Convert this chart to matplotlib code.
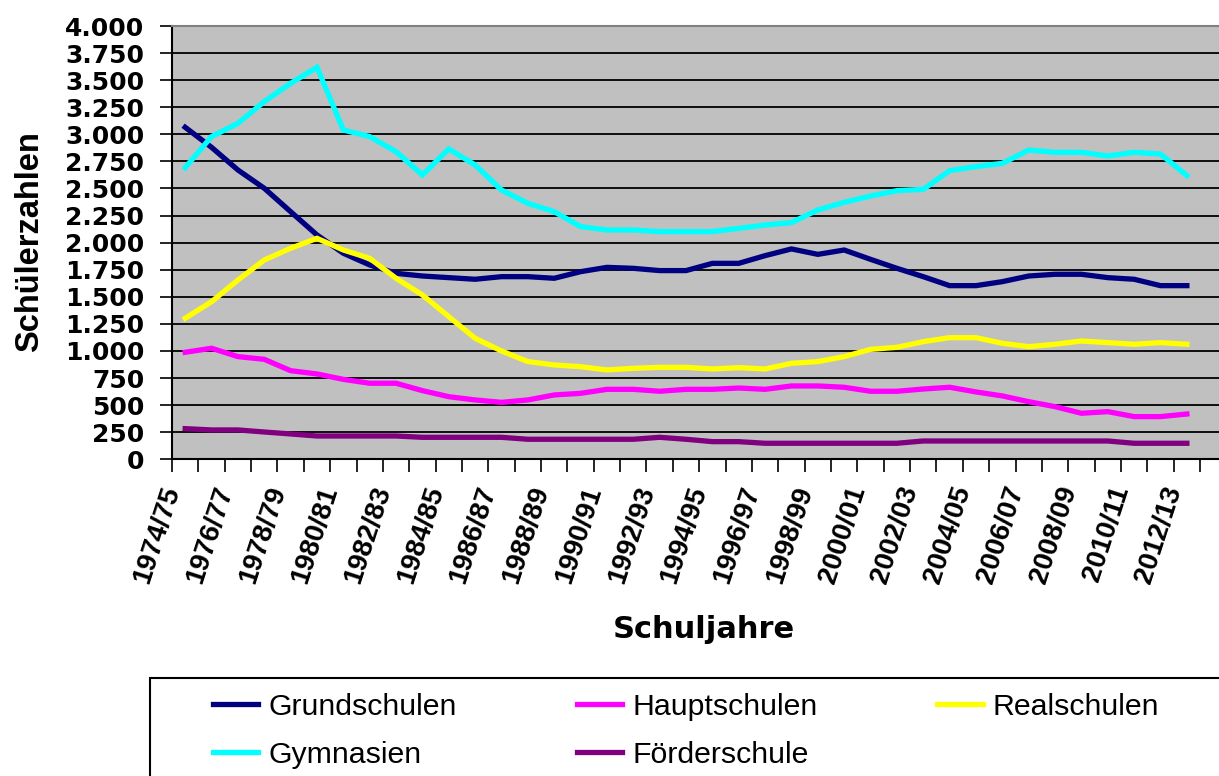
import matplotlib
matplotlib.use("Agg")
import matplotlib.pyplot as plt
from matplotlib.ticker import FixedLocator, FuncFormatter
from matplotlib.patches import Rectangle

school_years = [
    "1974/75", "1975/76", "1976/77", "1977/78", "1978/79", "1979/80", "1980/81",
    "1981/82", "1982/83", "1983/84", "1984/85", "1985/86", "1986/87", "1987/88",
    "1988/89", "1989/90", "1990/91", "1991/92", "1992/93", "1993/94", "1994/95",
    "1995/96", "1996/97", "1997/98", "1998/99", "1999/00", "2000/01", "2001/02",
    "2002/03", "2003/04", "2004/05", "2005/06", "2006/07", "2007/08", "2008/09",
    "2009/10", "2010/11", "2011/12", "2012/13",
]

grundschulen = [3065, 2880, 2671, 2502, 2286, 2071, 1902, 1794, 1717, 1692, 1677, 1662, 1686,
                1686, 1671, 1732, 1772, 1763, 1742, 1742, 1809, 1809, 1880, 1942, 1892, 1932,
                1846, 1763, 1686, 1603, 1603, 1640, 1692, 1708, 1708, 1677, 1662, 1603, 1603]
hauptschulen = [988, 1025, 948, 923, 818, 788, 738, 702, 702, 634, 578, 548, 526,
                548, 594, 609, 646, 646, 628, 646, 646, 658, 646, 677, 677, 665,
                628, 628, 649, 665, 622, 585, 532, 486, 425, 440, 394, 394, 418]
realschulen = [1302, 1455, 1655, 1840, 1948, 2040, 1932, 1855, 1671, 1517, 1317, 1117, 1000,
               902, 871, 855, 825, 840, 849, 849, 834, 846, 834, 886, 902, 948,
               1015, 1034, 1086, 1123, 1123, 1071, 1040, 1062, 1092, 1077, 1062, 1077, 1062]
gymnasien = [2692, 2979, 3102, 3302, 3471, 3619, 3040, 2979, 2840, 2625, 2865, 2717, 2486,
             2363, 2286, 2148, 2117, 2117, 2102, 2102, 2102, 2132, 2163, 2185, 2302, 2372,
             2431, 2480, 2492, 2665, 2702, 2732, 2855, 2834, 2834, 2800, 2834, 2818, 2619]
foerderschule = [283, 271, 271, 252, 234, 215, 215, 215, 215, 203, 203, 203, 203,
                 185, 185, 185, 185, 185, 203, 185, 163, 163, 148, 148, 148, 148,
                 148, 148, 169, 169, 169, 169, 169, 169, 169, 169, 148, 148, 148]

series_names = ["Grundschulen", "Hauptschulen", "Realschulen", "Gymnasien", "Förderschule"]
series_values = [grundschulen, hauptschulen, realschulen, gymnasien, foerderschule]
series_colors = ["#000080", "#FF00FF", "#FFFF00", "#00FFFF", "#800080"]

y_ticks = list(range(0, 4001, 250))

W, H = 1219, 776
fig = plt.figure(figsize=(W / 100, H / 100), dpi=100)
n_slots = len(school_years) + 1
left, right, top, bottom = 172, 172 + n_slots * 26.36, 26, 459.3
ax = fig.add_axes([left / W, 1 - bottom / H, (right - left) / W, (bottom - top) / H])
ax.set_facecolor("#C0C0C0")

x = list(range(len(school_years)))
lines = []
for name, vals, col in zip(series_names, series_values, series_colors):
    ln, = ax.plot(x, vals, color=col, lw=3.8, label=name, solid_joinstyle="miter")
    lines.append(ln)

ax.set_xlim(-0.5, n_slots - 0.5)
ax.set_ylim(0, 4000)

# y axis
ax.yaxis.set_major_locator(FixedLocator(y_ticks))
ax.yaxis.set_major_formatter(FuncFormatter(lambda v, p: f"{int(v):,}".replace(",", ".")))
ax.tick_params(axis="y", direction="out", length=9, width=1.2, pad=11,
               labelsize=18)
for lab in ax.get_yticklabels():
    lab.set_fontfamily("DejaVu Sans")
    lab.set_fontweight("bold")
ax.grid(axis="y", color="black", lw=1.3)
ax.set_axisbelow(True)

# x axis: ticks at category boundaries, labels at every other category center
ax.xaxis.set_major_locator(FixedLocator([i - 0.5 for i in range(n_slots + 1)]))
ax.xaxis.set_major_formatter(FuncFormatter(lambda v, p: ""))
ax.xaxis.set_minor_locator(FixedLocator(x[::2]))
ax.set_xticklabels(school_years[::2], minor=True)
ax.tick_params(axis="x", which="major", direction="out", length=9, width=1.2)
ax.tick_params(axis="x", which="minor", length=0, pad=17, labelsize=20)
for lab in ax.get_xticklabels(minor=True):
    lab.set_rotation(72)
    lab.set_ha("right")
    lab.set_va("top")
    lab.set_fontfamily("Liberation Sans")
    lab.set_fontweight("bold")

for s in ["left", "bottom"]:
    ax.spines[s].set_color("black")
    ax.spines[s].set_linewidth(1.5)
ax.spines["top"].set_color("#808080")
ax.spines["top"].set_linewidth(1.5)
ax.spines["right"].set_visible(False)

fig.text(30 / W, 1 - 242 / H, "Schülerzahlen", rotation=90, ha="center", va="center",
         fontsize=23.5, fontweight="bold", family="Liberation Sans")
fig.text(704 / W, 1 - 630 / H, "Schuljahre", ha="center", va="center",
         fontsize=22, fontweight="bold", family="DejaVu Sans")

# legend box
fig.add_artist(Rectangle((150 / W, -0.05), 1.0, 0.05 + (H - 678) / H, transform=fig.transFigure,
                         fill=False, ec="black", lw=1.5))
order = [0, 3, 1, 4, 2]
leg = fig.legend([lines[i] for i in order], [series_names[i] for i in order],
                 ncol=3, loc="upper left", bbox_to_anchor=(213 / W, 1 - 693 / H),
                 frameon=False, borderpad=0, borderaxespad=0,
                 handlelength=1.5, handletextpad=0.33, columnspacing=3.96,
                 labelspacing=0.65,
                 prop={"family": "Liberation Sans", "size": 21.8})

fig.savefig("out.png", dpi=100)
